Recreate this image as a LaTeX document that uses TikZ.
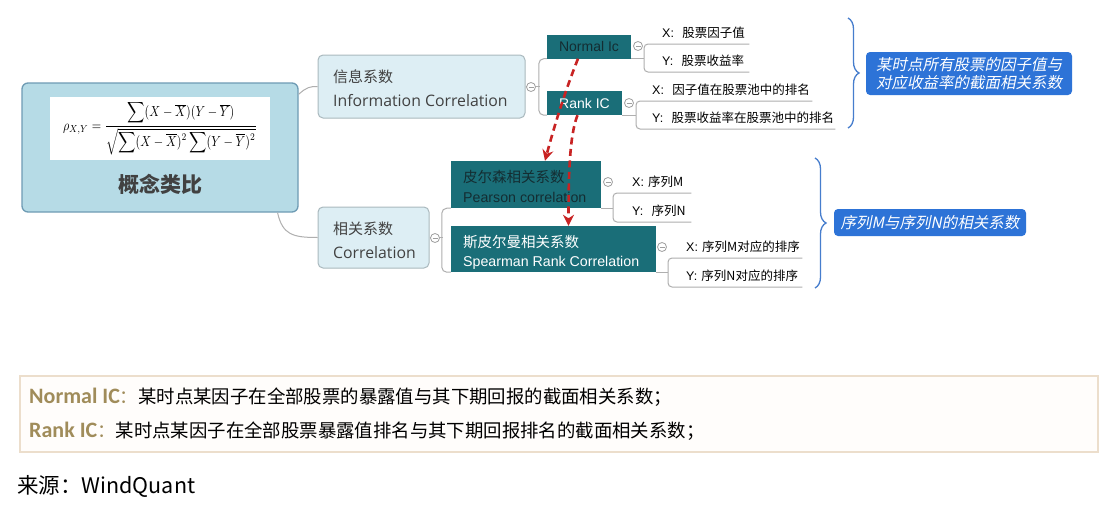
\documentclass[tikz,border=0pt]{standalone}
\usepackage[no-math]{fontspec}
\setmainfont{Open Sans}
\newfontfamily\cjk{Noto Sans CJK SC}
\newfontfamily\cjkit{Noto Sans CJK SC}[FakeSlant=0.2]
\newfontfamily\arl{Liberation Sans}
\newfontfamily\carl{Carlito}
\usetikzlibrary{decorations.pathreplacing,arrows.meta,calc}
\definecolor{mainfill}{RGB}{182,219,230}
\definecolor{mainedge}{RGB}{110,155,180}
\definecolor{subfill}{RGB}{221,238,244}
\definecolor{subedge}{RGB}{170,185,190}
\definecolor{tealbox}{RGB}{26,110,120}
\definecolor{bluebox}{RGB}{45,115,215}
\definecolor{bracecol}{RGB}{70,125,205}
\definecolor{linegray}{RGB}{175,175,175}
\definecolor{arrowred}{RGB}{200,35,35}
\definecolor{goldtext}{RGB}{160,140,90}
\definecolor{noteedge}{RGB}{236,222,204}
\definecolor{notefill}{RGB}{255,253,251}
\definecolor{darktext}{RGB}{20,45,50}
\definecolor{graytext}{RGB}{65,65,65}
\begin{document}
\begin{tikzpicture}[x=1pt,y=-1pt,
  conn/.style={draw=linegray, line width=1pt},
  subbox/.style={draw=subedge, fill=subfill, rounded corners=5pt, line width=1pt, inner sep=0pt},
  subtxt/.style={anchor=west, inner sep=0pt, align=left, text=graytext, font=\fontsize{15.8}{24}\selectfont},
  tbox/.style={fill=tealbox, inner sep=0pt, font=\arl\fontsize{14}{16}\selectfont},
  ttxt/.style={anchor=west, inner sep=0pt, align=left, font=\arl\fontsize{14.2}{19.5}\selectfont},
  leaf/.style={rectangle, inner xsep=0pt, inner ysep=0pt, minimum height=22pt, align=left, anchor=south west, text=black, font=\arl\fontsize{12.5}{14}\selectfont},
  bbox/.style={fill=bluebox, rounded corners=4pt, text=white, inner sep=0pt, align=center, font=\cjkit\fontsize{15.5}{18}\selectfont},
  circ/.style={circle, draw=gray!75, fill=white, line width=0.8pt, minimum size=9pt, inner sep=0pt,
    path picture={\draw[gray!75, line width=0.8pt] ([xshift=-2.5pt]path picture bounding box.center) -- ([xshift=2.5pt]path picture bounding box.center);}},
  bracestyle/.style={decorate, decoration={brace, amplitude=11pt}, draw=bracecol, line width=1.3pt},
  redarr/.style={draw=arrowred, line width=2.6pt, dash pattern=on 7pt off 4.5pt, -{Stealth[length=11pt,width=11pt]}}
]
\useasboundingbox (0,0) rectangle (1117,509);
\fill[white] (0,0) rectangle (1117,509);

% main concept box
\node[draw=mainedge, fill=mainfill, line width=1.3pt, rounded corners=6pt, minimum width=276pt, minimum height=129pt, inner sep=0pt] (main) at (160,147.5) {};
\node[fill=white, minimum width=220pt, minimum height=63pt, inner sep=0pt] (formula) at (160,128.5)
  {\resizebox*{194pt}{54pt}{$\displaystyle \rho_{X,Y}=\frac{\displaystyle\sum (X-\overline{X})(Y-\overline{Y})}{\sqrt{\displaystyle\sum (X-\overline{X})^{2}\sum (Y-\overline{Y})^{2}}}$}};
\node[font=\cjk\bfseries\fontsize{21}{24}\selectfont, text=graytext, inner sep=0pt] (mainlbl) at (160,184) {概念类比};

% second level
\node[subbox, minimum width=207pt, minimum height=63pt] (info) at (421.5,86.5) {};
\node[subtxt] (infotxt) at (333,88) {{\cjk\fontsize{15}{24}\selectfont 信息系数}\\Information Correlation};
\node[subbox, minimum width=111pt, minimum height=61pt] (corr) at (373.5,237.5) {};
\node[subtxt] (corrtxt) at (333,240) {{\cjk\fontsize{15}{24}\selectfont 相关系数}\\Correlation};

% third level
\node[tbox, minimum width=84pt, minimum height=24pt, text=darktext] (normal) at (589,46.5) {Normal Ic};
\node[tbox, minimum width=75pt, minimum height=24pt, text=white] (rank) at (584.5,103) {Rank IC};
\node[tbox, minimum width=150pt, minimum height=47pt] (pearson) at (526,184.5) {};
\node[ttxt, text=darktext] (pearsontxt) at (463,186.5) {{\cjk\fontsize{14.5}{19.5}\selectfont 皮尔森相关系数}\\Pearson correlation};
\node[tbox, minimum width=205pt, minimum height=46pt] (spearman) at (553.5,249) {};
\node[ttxt, text=white] (spearmantxt) at (463,252.5) {{\cjk\fontsize{14.5}{19.5}\selectfont 斯皮尔曼相关系数}\\Spearman Rank Correlation};

% leaves
\node[leaf, text width=105pt] (nx) at (644,44) {\hspace*{18pt}X:\ \ {\cjk 股票因子值}};
\node[leaf, text width=105pt] (ny) at (644,72) {\hspace*{18pt}Y:\ \ {\cjk 股票收益率}};
\node[leaf, text width=176pt] (rx) at (636,101) {\hspace*{16pt}X:\ \ {\cjk 因子值在股票池中的排名}};
\node[leaf, text width=199pt] (ry) at (636,129) {\hspace*{16pt}Y:\ \ {\cjk 股票收益率在股票池中的排名}};
\node[leaf, text width=78pt] (px) at (613,193) {\hspace*{19pt}X:\ {\cjk 序列M}};
\node[leaf, text width=78pt] (py) at (613,222) {\hspace*{19pt}Y:\ \ {\cjk 序列N}};
\node[leaf, text width=134pt] (sx) at (668,258) {\hspace*{18pt}X:\ {\cjk 序列M对应的排序}};
\node[leaf, text width=134pt] (sy) at (668,287) {\hspace*{18pt}Y:\ {\cjk 序列N对应的排序}};

% blue notes
\node[bbox, minimum width=206pt, minimum height=43pt] (note1) at (969,73.5) {某时点所有股票的因子值与\\对应收益率的截面相关系数};
\node[bbox, minimum width=192pt, minimum height=27pt] (note2) at (930,222.5) {序列M与序列N的相关系数};

% braces
\coordinate (b1t) at (848,18);
\coordinate (b1b) at (848,128);
\coordinate (b2t) at (815,158);
\coordinate (b2b) at (815,288);
\draw[bracestyle] (b1t) -- (b1b);
\draw[bracestyle] (b2t) -- (b2b);

% connectors
\draw[conn] (main.21.5) .. controls +(8,-7) and +(-8,0) .. (info.west);
\draw[conn] (main.-29.9) .. controls +(5,22) and +(-25,0) .. (corr.west);

\draw[conn] (info.east) -- ++(14,0);
\draw[conn, rounded corners=5pt] (normal.south west) -- ++(-8,0) |- (rank.south west);
\draw[conn] (corr.east) -- ++(13,0);
\draw[conn, rounded corners=5pt] (pearson.south west) -- ++(-9,0) |- (spearman.south west);

\draw[conn] (normal.south east) -- (normal.south east -| ny.south west);
\draw[conn, rounded corners=4pt] (nx.south east) -- (nx.south west) -- (ny.south west) -- (ny.south east);
\draw[conn] (rank.south east) -- (rank.south east -| ry.south west);
\draw[conn, rounded corners=4pt] (rx.south east) -- (rx.south west) -- (ry.south west) -- (ry.south east);
\draw[conn] (pearson.south east) -- (pearson.south east -| py.south west);
\draw[conn, rounded corners=4pt] (px.south east) -- (px.south west) -- (py.south west) -- (py.south east);
\draw[conn] (spearman.south east) -- (spearman.south east -| sy.south west);
\draw[conn, rounded corners=4pt] (sx.south east) -- (sx.south west) -- (sy.south west) -- (sy.south east);

% collapse circles
\node[circ] (ic) at (531,87) {};
\node[circ] (cc) at (435,238) {};
\node[circ] (nc) at (638,46) {};
\node[circ] (rc) at (629,103) {};
\node[circ] (pc) at (608,182) {};
\node[circ] (sc) at (662,247) {};

% red dashed arrows
\draw[redarr] ($(normal.south)+(-11,0)$) .. controls +(-14,35) and +(8,-30) .. ($(pearson.north)+(19,0)$);
\draw[redarr] ($(rank.south)+(-7,0)$) .. controls +(-8,20) and +(0,-50) .. ($(spearman.north)+(15,0)$);

% bottom note
\node[draw=noteedge, fill=notefill, line width=1.2pt, minimum width=1078pt, minimum height=76pt, inner sep=0pt] (note) at (559,414) {};
\node[anchor=west, inner sep=0pt, font=\cjk\fontsize{18.4}{20}\selectfont] (l1) at (29,397)
  {{\carl\bfseries\fontsize{22}{22}\selectfont\color{goldtext}Normal IC}{\color{goldtext}：}某时点某因子在全部股票的暴露值与其下期回报的截面相关系数；};
\node[anchor=west, inner sep=0pt, font=\cjk\fontsize{18.4}{20}\selectfont] (l2) at (29,431)
  {{\carl\bfseries\fontsize{22}{22}\selectfont\color{goldtext}Rank IC}{\color{goldtext}：}某时点某因子在全部股票暴露值排名与其下期回报排名的截面相关系数；};
\node[anchor=west, inner sep=0pt, font=\cjk\fontsize{21.5}{22}\selectfont] (src) at (17,486) {来源：WindQuant};
\end{tikzpicture}
\end{document}
